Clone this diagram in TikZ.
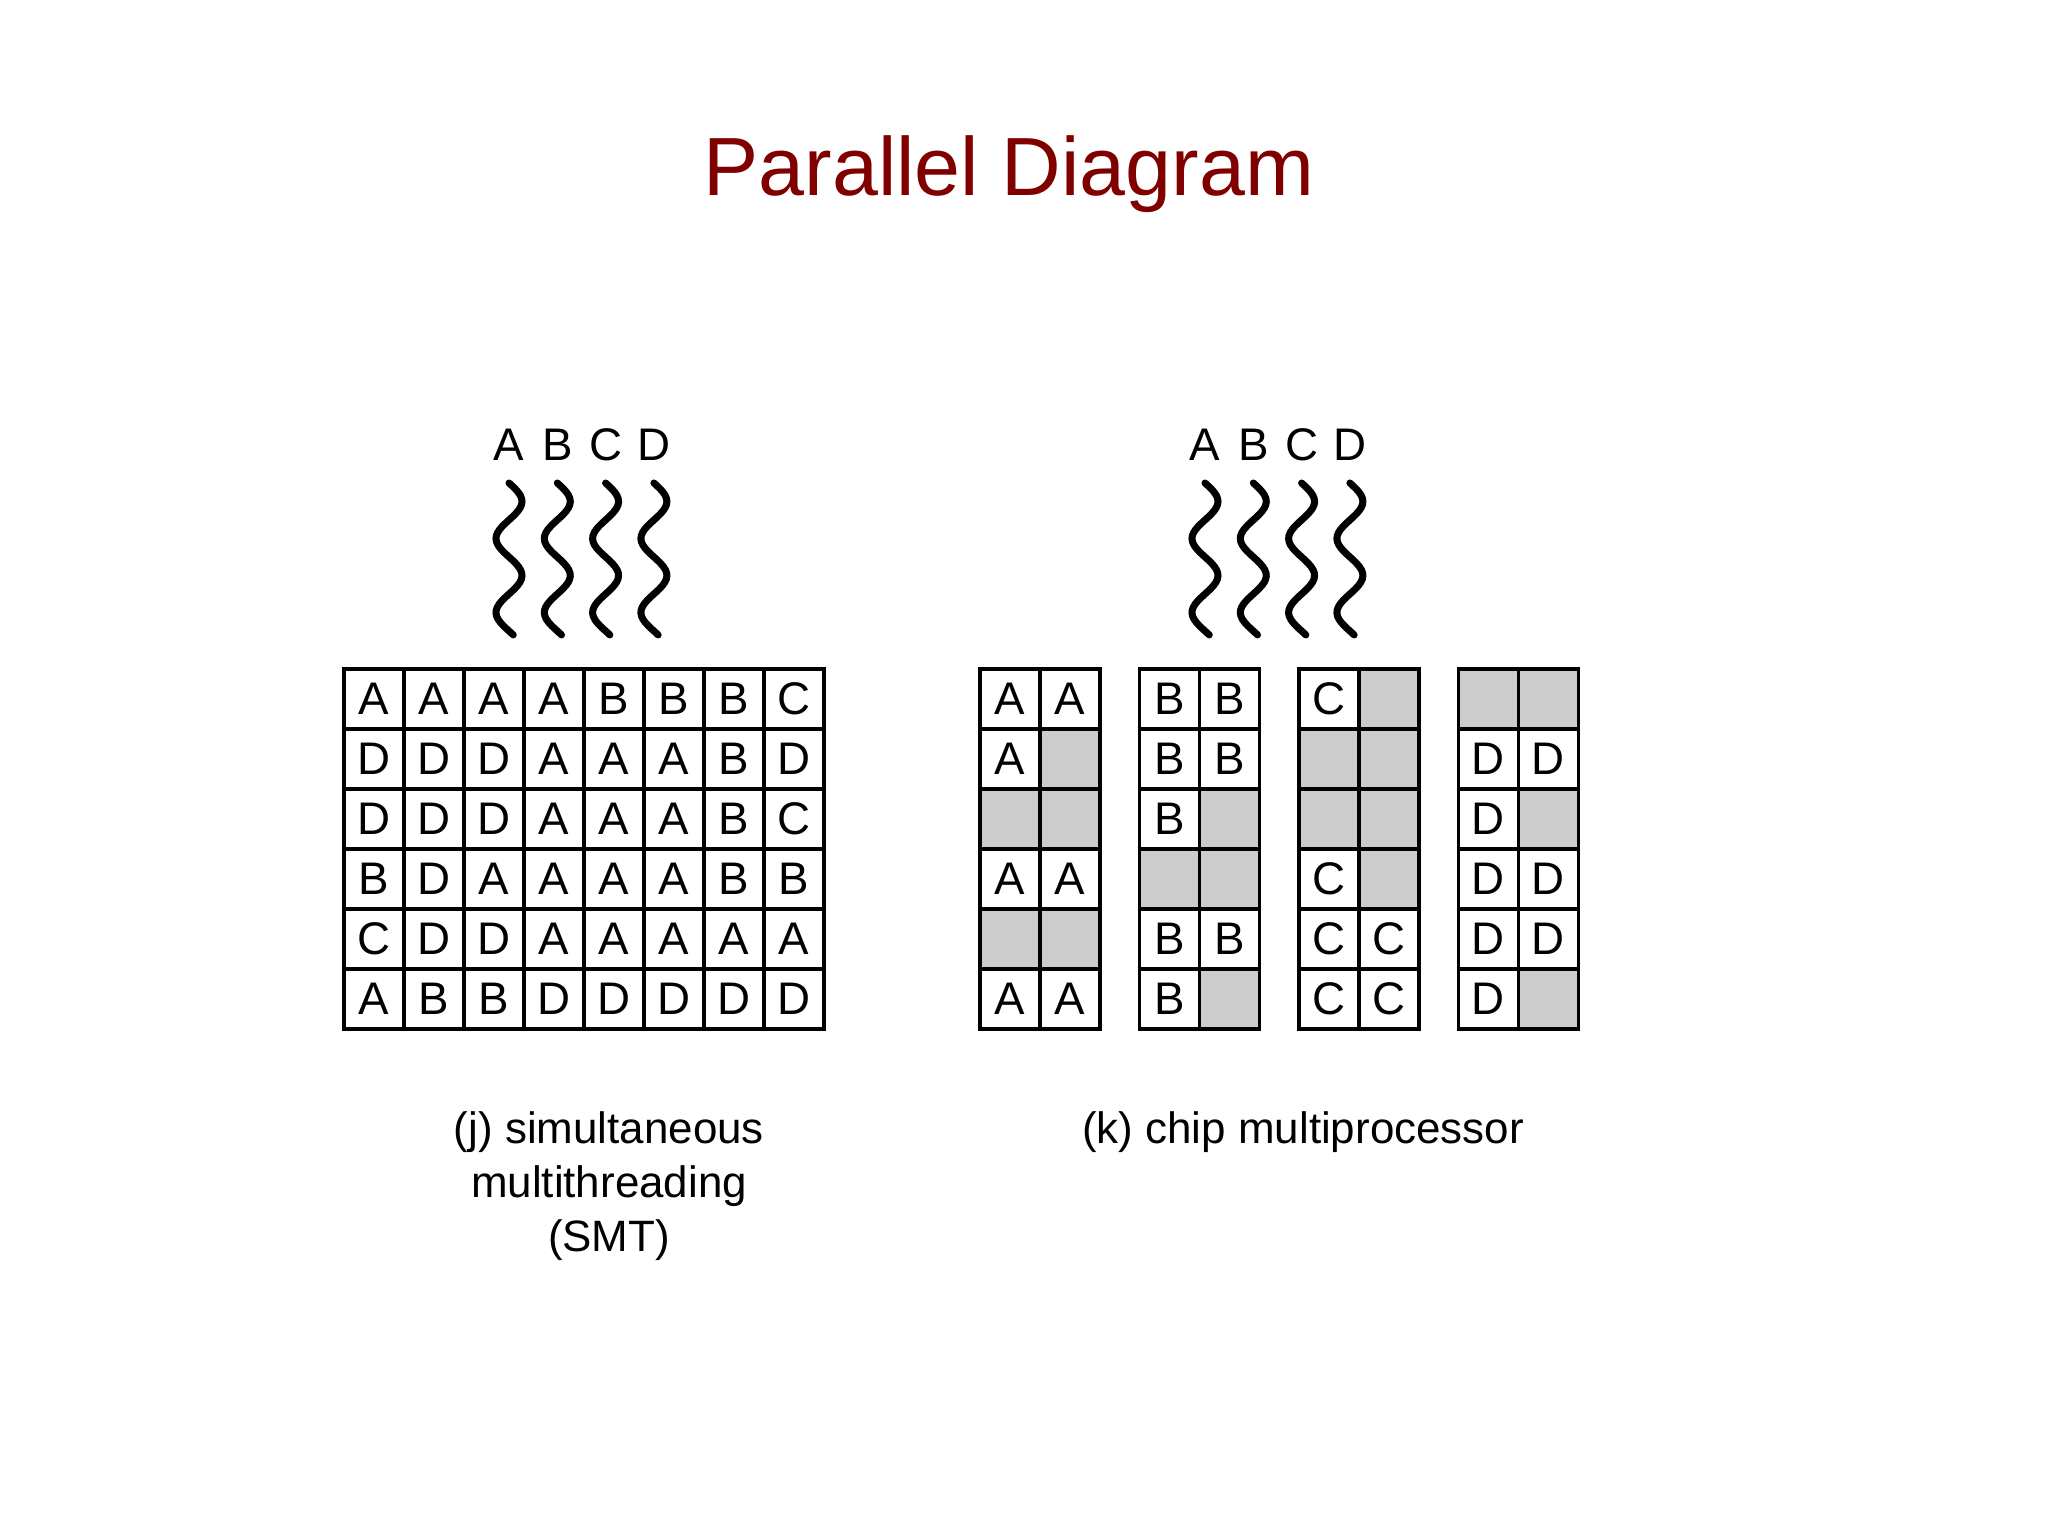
\documentclass[tikz,border=0pt]{standalone}
\usepackage{fontspec}
\setmainfont{Liberation Sans}
\usepackage{xcolor}
\usetikzlibrary{positioning}
\definecolor{titlered}{HTML}{800000}
\definecolor{idlegray}{HTML}{CCCCCC}

\begin{document}
\begin{tikzpicture}[
  cell/.style={draw, line width=1.1pt, minimum size=0.6cm, inner sep=0pt, anchor=north west, font=\fontsize{13}{15}\selectfont},
  slotA/.style={cell, node contents=A},
  slotB/.style={cell, node contents=B},
  slotC/.style={cell, node contents=C},
  slotD/.style={cell, node contents=D},
  slotN/.style={cell, fill=idlegray, node contents={}},
  thread/.style={line width=2pt, line cap=round},
  tlabel/.style={font=\fontsize{13}{15}\selectfont, anchor=base},
  caption/.style={font=\fontsize{12.5}{15.3}\selectfont, align=center, anchor=base}
]
\useasboundingbox (0,0) rectangle (20.48,-15.36);
\node[font=\fontsize{23.5}{28}\selectfont, text=titlered, anchor=base] (title) at (10.09,-1.96) {Parallel Diagram};
% (j) simultaneous multithreading
\foreach \r/\row in {0/{A,A,A,A,B,B,B,C}, 1/{D,D,D,A,A,A,B,D}, 2/{D,D,D,A,A,A,B,C}, 3/{B,D,A,A,A,A,B,B}, 4/{C,D,D,A,A,A,A,A}, 5/{A,B,B,D,D,D,D,D}} {
  \foreach \l [count=\c from 0] in \row
    \node[slot\l, name=smt-\r-\c, at={(3.42+0.6*\c,-6.67-0.6*\r)}];
}
\foreach \t [count=\i from 0] in {A,B,C,D} {
  \node[tlabel] (smt\t) at (5.09+0.483*\i,-4.61) {\t};
  \draw[thread] plot[domain=0:1.52, samples=50, smooth] ({5.09+0.483*\i+0.13*sin(\x*360/0.74)},{-4.83-\x});
}
% base of a multi-line node is its last line
\node[caption] (smtcap) at (6.09,-12.51) {(j) simultaneous\\multithreading\\(SMT)};
% (k) chip multiprocessor, one 2-wide core per thread
\foreach \g/\pat in {0/{A,A,A,N,N,N,A,A,N,N,A,A}, 1/{B,B,B,B,B,N,N,N,B,B,B,N}, 2/{C,N,N,N,N,N,C,N,C,C,C,C}, 3/{N,N,D,D,D,N,D,D,D,D,D,N}} {
  \foreach \l [count=\k from 0] in \pat {
    \pgfmathtruncatemacro{\rr}{int(\k/2)}\pgfmathtruncatemacro{\cc}{mod(\k,2)}
    \node[slot\l, name=cmp\g-\rr-\cc, at={(9.78+1.595*\g+0.6*\cc,-6.67-0.6*\rr)}];
  }
}
\foreach \t [count=\i from 0] in {A,B,C,D} {
  \node[tlabel] (cmp\t) at (12.05+0.483*\i,-4.61) {\t};
  \draw[thread] plot[domain=0:1.52, samples=50, smooth] ({12.05+0.483*\i+0.13*sin(\x*360/0.74)},{-4.83-\x});
}
\node[caption] (cmpcap) at (13.03,-11.43) {(k) chip multiprocessor};
\end{tikzpicture}
\end{document}
